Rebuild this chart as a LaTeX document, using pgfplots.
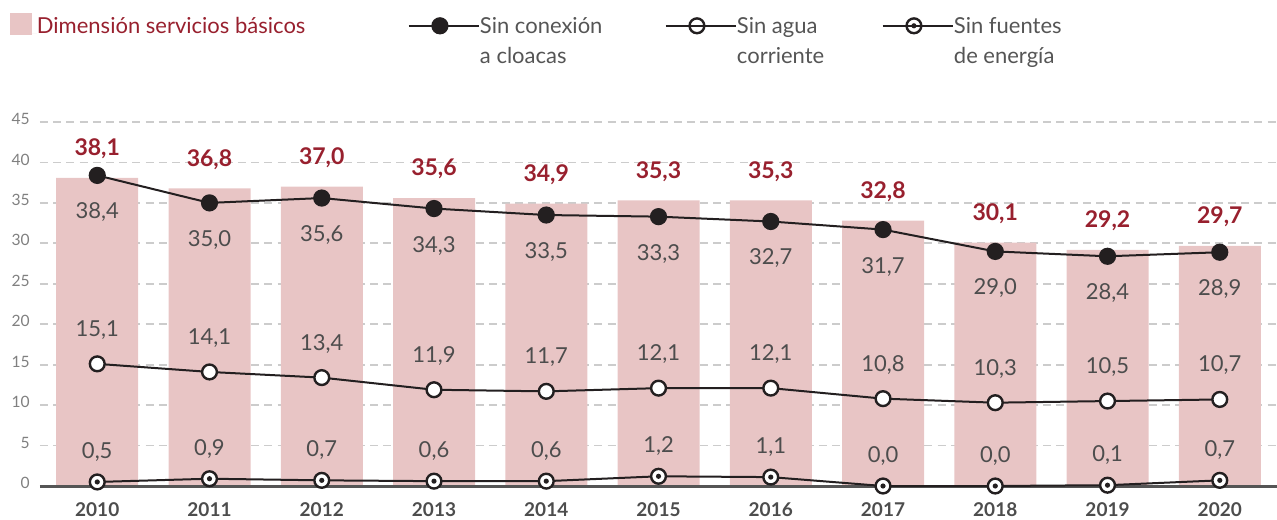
\documentclass[border=0pt]{standalone}
\usepackage{fontspec}
\setmainfont{Lato}
\usepackage{pgfplots}
\pgfplotsset{compat=1.18}

\definecolor{barpink}{HTML}{E8C5C5}
\definecolor{darkred}{HTML}{98202E}
\definecolor{txtgray}{HTML}{4D4D4D}
\definecolor{legendgray}{HTML}{555555}
\definecolor{tickgray}{HTML}{808080}
\definecolor{gridgray}{HTML}{CCCCCC}
\definecolor{axgray}{HTML}{555555}
\definecolor{linek}{HTML}{231F20}

% circle with a dot in the middle
\pgfdeclareplotmark{dotcirc}{%
  \pgfpathcircle{\pgfpointorigin}{\pgfplotmarksize}%
  \pgfusepathqfillstroke
  \begin{pgfscope}%
  \pgfsetfillcolor{linek}%
  \pgfpathcircle{\pgfpointorigin}{0.35\pgfplotmarksize}%
  \pgfusepathqfill
  \end{pgfscope}}

\pgfplotsset{
  lineleg/.style={legend image code/.code={%
    \draw[mark repeat=2, mark phase=2, ##1] plot coordinates {(0pt,4pt) (15.5pt,4pt) (31pt,4pt)};
    \path (0pt,4pt) -- (35pt,4pt);}},
  barleg/.style={legend image code/.code={%
    \fill[barpink] (0pt,-0.5pt) rectangle (11pt,10.5pt);
    \path (0pt,0pt) -- (13.5pt,0pt);}},
}

\pgfplotstableread{
x bar cloacas agua energia
0 38.1 38.4 15.1 0.5
1 36.8 35.0 14.1 0.9
2 37.0 35.6 13.4 0.7
3 35.6 34.3 11.9 0.6
4 34.9 33.5 11.7 0.6
5 35.3 33.3 12.1 1.2
6 35.3 32.7 12.1 1.1
7 32.8 31.7 10.8 0.0
8 30.1 29.0 10.3 0.0
9 29.2 28.4 10.5 0.1
10 29.7 28.9 10.7 0.7
}\datatable

\newcommand{\vallabel}{\pgfmathprintnumber[fixed,fixed zerofill,precision=1,use comma,assume math mode=true]{\pgfplotspointmeta}}

\begin{document}
\begin{tikzpicture}
\path[use as bounding box] (-20pt,-16.5pt) rectangle (618.5pt,243pt);
\begin{axis}[
    at={(0,0)}, anchor=south west,
    scale only axis,
    width=618.5pt, height=182pt,
    xmin=-0.51, xmax=10.51,
    ymin=0, ymax=45,
    clip=false,
    axis line style={draw=none},
    major tick length=0pt,
    xtick={0,...,10},
    xticklabels={2010,2011,2012,2013,2014,2015,2016,2017,2018,2019,2020},
    xticklabel style={font=\fontsize{9.5}{11}\selectfont\bfseries, text=txtgray, anchor=north, inner sep=0pt, yshift=-8pt},
    ytick={0,5,...,45},
    yticklabel style={font=\fontsize{7.8}{9}\selectfont, text=tickgray, anchor=east, inner sep=0pt, xshift=-5pt, yshift=1.5pt},
    /pgf/number format/assume math mode=true,
    ymajorgrids,
    grid style={draw=gridgray, line width=0.9pt, dash pattern=on 4pt off 2.6pt},
    legend columns=4,
    legend cell align=left,
    legend style={draw=none, fill=none, inner sep=0pt, outer sep=0pt,
        at={(axis description cs:-0.0243,1.30)}, anchor=north west,
        column sep=0pt, row sep=0pt,
        nodes={inner sep=0pt, anchor=base west, font=\fontsize{11}{15}\selectfont, text=legendgray}},
]
\addplot[ybar, bar width=41pt, fill=barpink, draw=none, barleg,
    nodes near coords=\vallabel,
    nodes near coords style={anchor=center, yshift=14.5pt, text=darkred, font=\fontsize{11.5}{13}\selectfont\bfseries}]
    table[x=x, y=bar] {\datatable};
\addlegendentry{\textcolor{darkred}{\parbox[t]{185.5pt}{Dimensión servicios básicos}}}

\draw[axgray, line width=1.5pt] (rel axis cs:0,0) -- (rel axis cs:1,0);

\addplot[linek, line width=1pt, mark=*, mark size=3.8pt, mark options={fill=linek, draw=linek}, lineleg,
    nodes near coords=\vallabel,
    nodes near coords style={anchor=center, yshift=-18.5pt, text=txtgray, font=\fontsize{11}{13}\selectfont}]
    table[x=x, y=cloacas] {\datatable};
\addlegendentry{\parbox[t]{92.5pt}{Sin conexión\\a cloacas}}

\addplot[linek, line width=1pt, mark=*, mark size=3.7pt, mark options={fill=white, draw=linek, line width=1.2pt}, lineleg,
    nodes near coords=\vallabel,
    nodes near coords style={anchor=center, yshift=17pt, text=txtgray, font=\fontsize{11}{13}\selectfont}]
    table[x=x, y=agua] {\datatable};
\addlegendentry{\parbox[t]{72.5pt}{Sin agua\\corriente}}

\addplot[linek, line width=1pt, mark=dotcirc, mark size=3.7pt, mark options={fill=white, draw=linek, line width=1.2pt}, lineleg,
    nodes near coords=\vallabel,
    nodes near coords style={anchor=center, yshift=15pt, text=txtgray, font=\fontsize{11}{13}\selectfont}]
    table[x=x, y=energia] {\datatable};
\addlegendentry{\parbox[t]{80pt}{Sin fuentes\\de energía}}
\end{axis}
\end{tikzpicture}
\end{document}
